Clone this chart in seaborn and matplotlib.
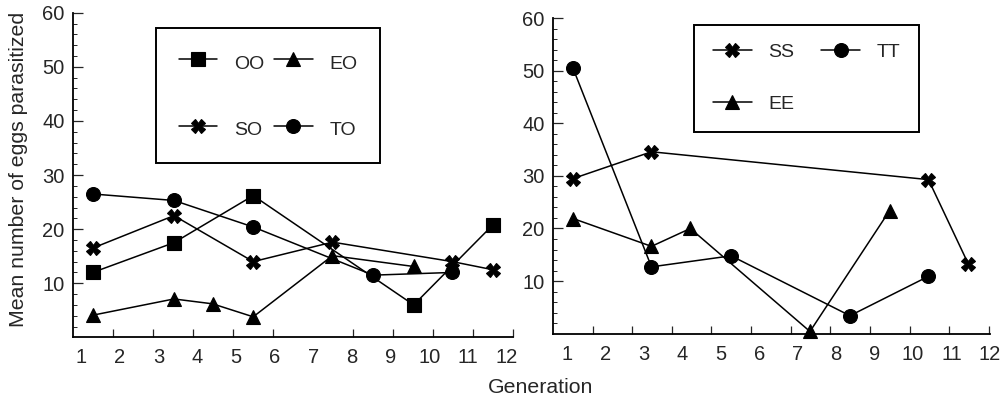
import numpy as np
import matplotlib
matplotlib.use("Agg")
import matplotlib.pyplot as plt
import seaborn as sns
from matplotlib.ticker import FixedLocator

# left panel: lines reared on O (generation, mean eggs)
gen_oo = [1.3, 3.4, 5.45, 9.6, 11.65]
eggs_oo = [12.0, 17.5, 26.2, 6.0, 20.8]
gen_eo = [1.3, 3.4, 4.4, 5.45, 7.5, 9.6]
eggs_eo = [4.1, 7.1, 6.2, 3.8, 15.1, 13.1]
gen_so = [1.3, 3.4, 5.45, 7.5, 10.6, 11.65]
eggs_so = [16.5, 22.5, 14.0, 17.6, 14.0, 12.5]
gen_to = [1.3, 3.4, 5.45, 8.55, 10.6]
eggs_to = [26.5, 25.3, 20.4, 11.5, 12.0]

# right panel: lines kept on their own host
gen_ss = [1.16, 3.2, 10.4, 11.44]
eggs_ss = [29.5, 34.6, 29.3, 13.2]
gen_tt = [1.16, 3.2, 5.27, 8.36, 10.4]
eggs_tt = [50.5, 12.7, 14.8, 3.4, 10.9]
gen_ee = [1.16, 3.2, 4.21, 7.32, 9.39]
eggs_ee = [21.9, 16.6, 20.0, 0.4, 23.4]

generations = list(range(1, 13))
y_ticks = [10, 20, 30, 40, 50, 60]

sns.set_style("ticks")
plt.rcParams["font.family"] = ["Liberation Sans", "DejaVu Sans"]
plt.rcParams["font.size"] = 14

fig = plt.figure(figsize=(10.06, 4.04), dpi=100)
ax1 = fig.add_axes([0.0726, 0.1649, 0.4374, 0.8037])
ax2 = fig.add_axes([0.5497, 0.1743, 0.4344, 0.7804])


def draw(ax, x, y, marker, label, ms):
    sns.lineplot(x=x, y=y, ax=ax, color="black", marker=marker, markersize=ms,
                 markeredgecolor="black", markeredgewidth=0.8, linewidth=1.1,
                 label=label, clip_on=False)


draw(ax1, gen_oo, eggs_oo, "s", "OO", 10)
draw(ax1, gen_so, eggs_so, "X", "SO", 10)
draw(ax1, gen_eo, eggs_eo, "^", "EO", 9.5)
draw(ax1, gen_to, eggs_to, "o", "TO", 10)

draw(ax2, gen_ss, eggs_ss, "X", "SS", 10)
draw(ax2, gen_ee, eggs_ee, "^", "EE", 9.5)
draw(ax2, gen_tt, eggs_tt, "o", "TT", 10)

# the scanned axes have unlabeled tick marks that do not line up with the numbers
setups = [(ax1, (0.79, 12.17), np.linspace(1.83, 12.17, 11), (0.189, 0.953),
           1.15, 1.5, 2.22, 0.5),
          (ax2, (0.64, 11.97), np.linspace(1.67, 11.97, 11), (0.323, 0.979),
           0.95, 0.7, 1.78, 1.4)]
for ax, xlim, minors, anchor, bpad, hheight, lspace, cspace in setups:
    ax.set_xlim(*xlim)
    ax.set_ylim(0, 60)
    ax.set_xticks(generations)
    ax.xaxis.set_minor_locator(FixedLocator(minors))
    ax.set_yticks(y_ticks)
    ax.yaxis.set_minor_locator(FixedLocator(np.arange(2, 60, 2)))
    ax.tick_params(axis="x", which="major", length=0, pad=8, labelsize=14.5)
    ax.tick_params(axis="x", which="minor", direction="in", length=6, width=0.9)
    ax.tick_params(axis="y", which="major", direction="in", length=7, width=0.9,
                   pad=6, labelsize=14.5)
    ax.tick_params(axis="y", which="minor", direction="in", length=3, width=0.7)
    for side in ["left", "bottom"]:
        ax.spines[side].set_linewidth(1.3)
        ax.spines[side].set_color("black")
    sns.despine(ax=ax)
    ax.set_xlabel("")
    ax.set_ylabel("")
    leg = ax.legend(ncol=2, loc="upper left", bbox_to_anchor=anchor, frameon=True,
                    fancybox=False, edgecolor="black", framealpha=1, fontsize=14,
                    borderpad=bpad, handleheight=hheight, labelspacing=lspace,
                    handlelength=2.0, handletextpad=0.85, columnspacing=cspace,
                    borderaxespad=0)
    leg.get_frame().set_linewidth(1.4)

fig.text(0.018, 0.58, "Mean number of eggs parasitized", rotation=90,
         ha="center", va="center", fontsize=15.3)
fig.text(0.537, 0.04, "Generation", ha="center", va="center", fontsize=15.3)

fig.savefig("out.png", dpi=100)
plt.close(fig)
